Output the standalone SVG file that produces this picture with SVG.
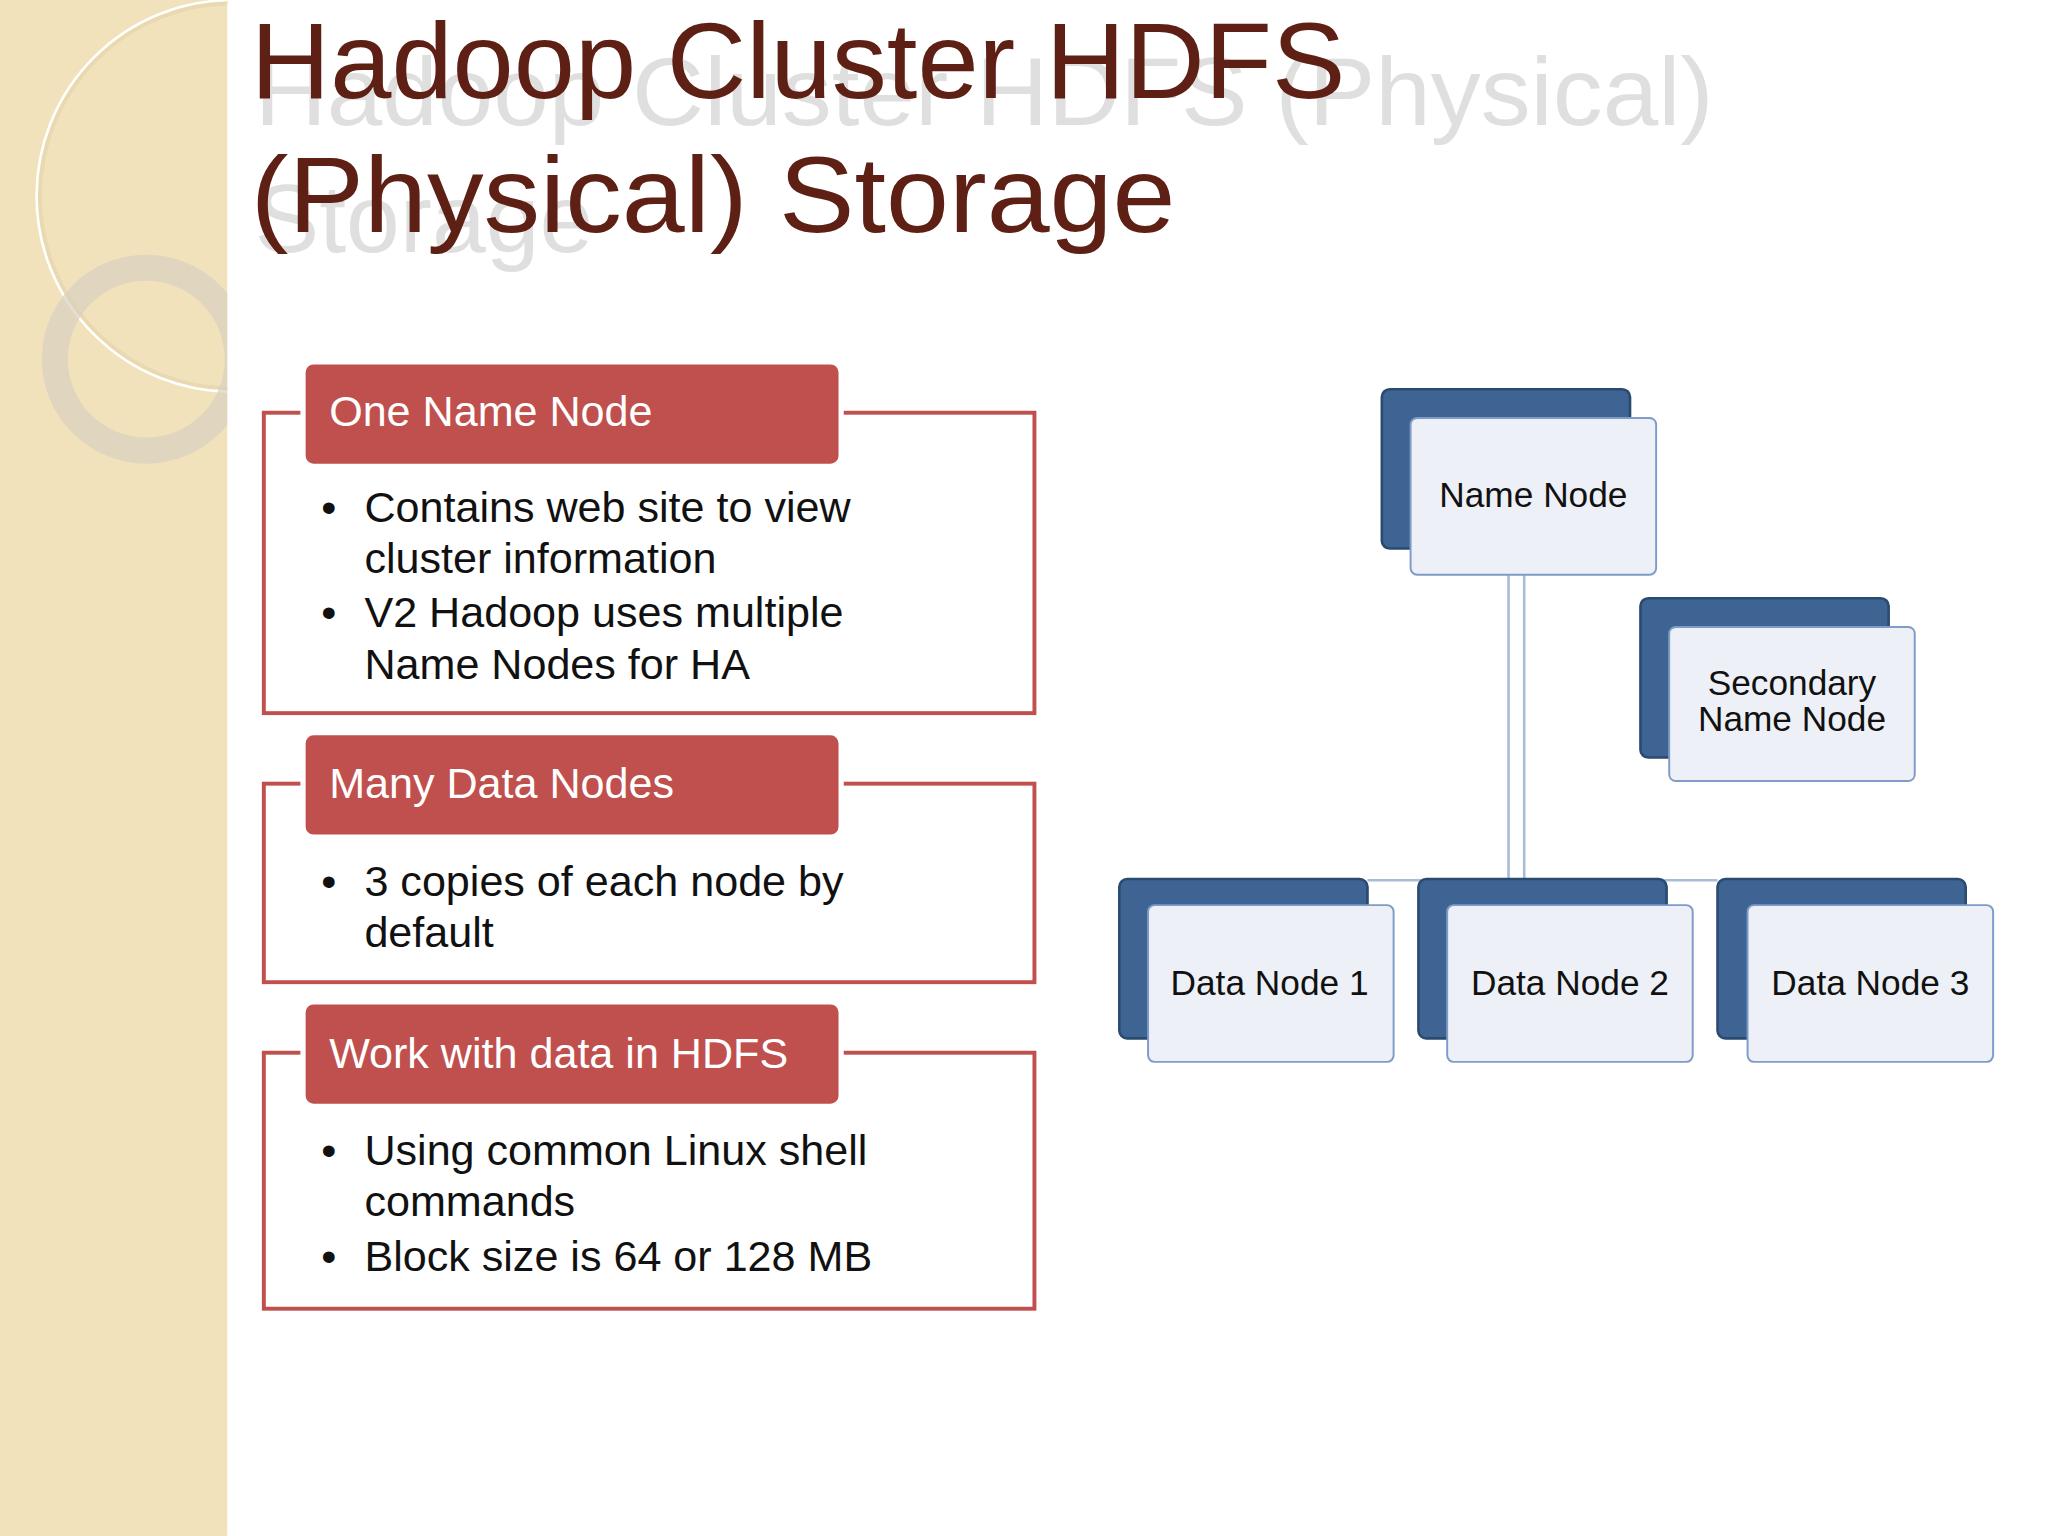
<svg xmlns="http://www.w3.org/2000/svg" width="2048" height="1536" viewBox="0 0 2048 1536">
<style>
.t{font-family:"Liberation Sans",Arial,sans-serif}
.hd{fill:#C0504D;stroke:#fff;stroke-width:4}
.ol{fill:#fff;stroke:#C0504D;stroke-width:3}
.ht{font-size:33px;fill:#fff}
.bt{font-size:33px;fill:#111}
.bk{fill:#3E6494;stroke:#2b4a70;stroke-width:2}
.fr{fill:#EDF0F6;stroke:#7F9CC8;stroke-width:1.5}
.nt{font-size:27px;fill:#111;text-anchor:middle}
</style>
<defs><clipPath id="c"><rect x="0" y="0" width="174" height="1176"/></clipPath></defs>
<rect width="2048" height="1536" fill="#fff"/>
<g transform="scale(1.3061)">
<rect x="0" y="0" width="174" height="1176" fill="#F2E2BC"/>
<g clip-path="url(#c)" fill="none">
<circle cx="178" cy="150" r="148" stroke="#E8D9B0" stroke-width="4"/>
<circle cx="178" cy="150" r="150" stroke="#fff" stroke-width="2"/>
<circle cx="112" cy="275" r="70" stroke="#D8D0C0" stroke-width="20" opacity="0.7"/>
</g>
<text class="t" x="195" y="96" font-size="74" fill="#999" opacity="0.3" textLength="1117" lengthAdjust="spacingAndGlyphs">Hadoop Cluster HDFS (Physical)</text>
<text class="t" x="195" y="193" font-size="74" fill="#999" opacity="0.3">Storage</text>
<text class="t" x="192" y="75" font-size="82" fill="#5E2014" textLength="838" lengthAdjust="spacingAndGlyphs">Hadoop Cluster HDFS</text>
<text class="t" x="192" y="178" font-size="82" fill="#5E2014" textLength="708" lengthAdjust="spacingAndGlyphs">(Physical)  Storage</text>

<g id="box1">
<rect class="ol" x="202" y="316" width="590" height="230"/>
<rect class="hd" x="232" y="277" width="412" height="80" rx="8"/>
<text class="t ht" x="252" y="326">One Name Node</text>
<text class="t bt" x="246" y="400">•</text><text class="t bt" x="279" y="400">Contains web site to view</text>
<text class="t bt" x="279" y="439">cluster information</text>
<text class="t bt" x="246" y="480">•</text><text class="t bt" x="279" y="480">V2 Hadoop uses multiple</text>
<text class="t bt" x="279" y="520">Name Nodes for HA</text>
</g>
<g id="box2">
<rect class="ol" x="202" y="600" width="590" height="152"/>
<rect class="hd" x="232" y="561" width="412" height="80" rx="8"/>
<text class="t ht" x="252" y="611">Many Data Nodes</text>
<text class="t bt" x="246" y="686">•</text><text class="t bt" x="279" y="686">3 copies of each node by</text>
<text class="t bt" x="279" y="725">default</text>
</g>
<g id="box3">
<rect class="ol" x="202" y="806" width="590" height="196"/>
<rect class="hd" x="232" y="767" width="412" height="80" rx="8"/>
<text class="t ht" x="252" y="818">Work with data in HDFS</text>
<text class="t bt" x="246" y="892">•</text><text class="t bt" x="279" y="892">Using common Linux shell</text>
<text class="t bt" x="279" y="931">commands</text>
<text class="t bt" x="246" y="973">•</text><text class="t bt" x="279" y="973">Block size is 64 or 128 MB</text>
</g>

<g id="connectors" stroke="#A9BCD8" stroke-width="2" fill="none">
<path d="M1155 440V674M1167 440V674"/>
<path d="M1047 674H1315"/>
</g>
<g id="namenode"><rect class="bk" x="1058" y="298" width="190" height="122" rx="6"/><rect class="fr" x="1080" y="320" width="188" height="120" rx="5"/><text class="t nt" x="1174" y="388">Name Node</text></g>
<g id="secondary"><rect class="bk" x="1256" y="458" width="190" height="122" rx="6"/><rect class="fr" x="1278" y="480" width="188" height="118" rx="5"/><text class="t nt" x="1372" y="532">Secondary</text><text class="t nt" x="1372" y="560">Name Node</text></g>
<g id="dn1"><rect class="bk" x="857" y="673" width="190" height="122" rx="6"/><rect class="fr" x="879" y="693" width="188" height="120" rx="5"/><text class="t nt" x="972" y="762">Data Node 1</text></g>
<g id="dn2"><rect class="bk" x="1086" y="673" width="190" height="122" rx="6"/><rect class="fr" x="1108" y="693" width="188" height="120" rx="5"/><text class="t nt" x="1202" y="762">Data Node 2</text></g>
<g id="dn3"><rect class="bk" x="1315" y="673" width="190" height="122" rx="6"/><rect class="fr" x="1338" y="693" width="188" height="120" rx="5"/><text class="t nt" x="1432" y="762">Data Node 3</text></g>
</g>
</svg>
